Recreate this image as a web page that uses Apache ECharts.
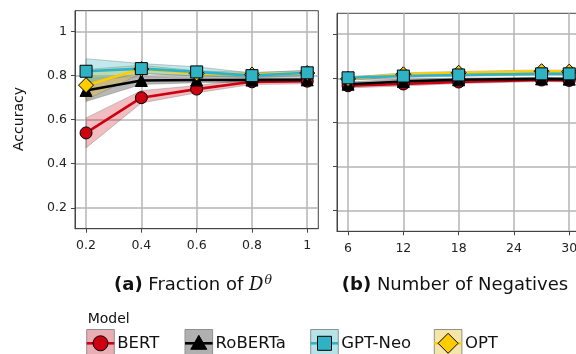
<!DOCTYPE html>
<html><head><meta charset="utf-8">
<script src="https://cdn.jsdelivr.net/npm/echarts@6/dist/echarts.min.js"></script>
<style>html,body{margin:0;padding:0;background:#fff}#c{width:576px;height:354px}</style>
</head><body><div id="c"></div>
<script>
// ---- data ----
const models = ['BERT', 'RoBERTa', 'GPT-Neo', 'OPT'];
const xFrac = [0.2, 0.4, 0.6, 0.8, 1];
const xNeg = [6, 12, 18, 27, 30];
const yTicks = [0.2, 0.4, 0.6, 0.8, 1];
const xFracTicks = [0.2, 0.4, 0.6, 0.8, 1];
const xNegTicks = [6, 12, 18, 24, 30];

// panel (a): Fraction of D^theta
const bertA = [0.540, 0.700, 0.739, 0.772, 0.775];
const bertALo = [0.472, 0.676, 0.722, 0.760, 0.763];
const bertAHi = [0.608, 0.732, 0.755, 0.785, 0.787];
const robertaA = [0.733, 0.778, 0.780, 0.780, 0.781];
const robertaALo = [0.683, 0.760, 0.768, 0.770, 0.772];
const robertaAHi = [0.790, 0.795, 0.792, 0.790, 0.790];
const gptneoA = [0.820, 0.832, 0.817, 0.800, 0.813];
const gptneoALo = [0.765, 0.810, 0.800, 0.790, 0.800];
const gptneoAHi = [0.877, 0.855, 0.840, 0.812, 0.825];
const optA = [0.757, 0.830, 0.810, 0.805, 0.812];
const optALo = [0.690, 0.810, 0.798, 0.795, 0.800];
const optAHi = [0.828, 0.847, 0.822, 0.815, 0.822];

// panel (b): Number of Negatives
const bertB = [0.766, 0.774, 0.783, 0.792, 0.790];
const bertBLo = [0.756, 0.765, 0.776, 0.785, 0.783];
const bertBHi = [0.776, 0.783, 0.790, 0.799, 0.797];
const robertaB = [0.773, 0.785, 0.793, 0.797, 0.796];
const robertaBLo = [0.762, 0.775, 0.785, 0.790, 0.789];
const robertaBHi = [0.784, 0.795, 0.801, 0.804, 0.803];
const gptneoB = [0.802, 0.810, 0.815, 0.820, 0.820];
const gptneoBLo = [0.795, 0.803, 0.809, 0.814, 0.814];
const gptneoBHi = [0.809, 0.817, 0.821, 0.826, 0.826];
const optB = [0.797, 0.818, 0.825, 0.832, 0.830];
const optBLo = [0.790, 0.811, 0.819, 0.826, 0.824];
const optBHi = [0.804, 0.825, 0.831, 0.838, 0.836];

// ---- styles ----
const lineColors = {'BERT':'#cc0011','RoBERTa':'#000000','GPT-Neo':'#2fb3c4','OPT':'#ffcc00'};
const bandColors = {'BERT':'rgba(204,0,17,0.26)','RoBERTa':'rgba(0,0,0,0.28)','GPT-Neo':'rgba(47,179,196,0.3)','OPT':'rgba(230,190,20,0.33)'};
const legendFill = {'BERT':'#e9aeb3','RoBERTa':'#b0b0b0','GPT-Neo':'#b5e3e8','OPT':'#f6e5a9'};
const symbols = {'BERT':['circle',12],'RoBERTa':['triangle',12],'GPT-Neo':['rect',12],'OPT':['diamond',15]};
const FONT = 'DejaVu Sans';

const panelA = {'BERT':[bertA,bertALo,bertAHi],'RoBERTa':[robertaA,robertaALo,robertaAHi],'GPT-Neo':[gptneoA,gptneoALo,gptneoAHi],'OPT':[optA,optALo,optAHi]};
const panelB = {'BERT':[bertB,bertBLo,bertBHi],'RoBERTa':[robertaB,robertaBLo,robertaBHi],'GPT-Neo':[gptneoB,gptneoBLo,gptneoBHi],'OPT':[optB,optBLo,optBHi]};
const drawOrder = ['BERT','RoBERTa','OPT','GPT-Neo'];

function bandSeries(xs, lo, hi, color, ai) {
  const data = xs.map((x, i) => [x, lo[i], hi[i]]);
  return {
    type: 'custom', xAxisIndex: ai, yAxisIndex: ai, data: data, z: 1, silent: true, clip: true,
    encode: {x: 0, y: [1, 2]},
    renderItem: function (params, api) {
      if (params.dataIndex !== 0) return null;
      const top = data.map(d => api.coord([d[0], d[2]]));
      const bot = data.map(d => api.coord([d[0], d[1]])).reverse();
      return {type: 'polygon', shape: {points: top.concat(bot)},
        style: {fill: color, stroke: 'rgba(110,110,110,0.45)', lineWidth: 0.8}};
    }
  };
}
function lineSeries(name, xs, ys, ai) {
  return {
    type: 'line', name: name, xAxisIndex: ai, yAxisIndex: ai, z: 3,
    data: xs.map((x, i) => [x, ys[i]]),
    symbol: symbols[name][0], symbolSize: symbols[name][1],
    lineStyle: {color: lineColors[name], width: 2.6},
    itemStyle: {color: lineColors[name], borderColor: '#000', borderWidth: 1},
    emphasis: {disabled: true}
  };
}

const series = [];
[[panelA, xFrac, 0], [panelB, xNeg, 1]].forEach(([P, xs, ai]) => {
  drawOrder.forEach(m => series.push(bandSeries(xs, P[m][1], P[m][2], bandColors[m], ai)));
  drawOrder.forEach(m => series.push(lineSeries(m, xs, P[m][0], ai)));
});

const axisCommon = {
  type: 'value',
  axisLine: {show: true, lineStyle: {color: '#444', width: 1}},
  axisTick: {show: true, inside: false, length: 4, lineStyle: {color: '#444', width: 1}},
  splitLine: {show: true, lineStyle: {color: '#b4b4b4', width: 1.5}},
  axisLabel: {color: '#222', fontFamily: FONT, fontSize: 12.5}
};
function xAxis(ai, min, max, ticks) {
  return Object.assign({}, axisCommon, {
    gridIndex: ai, min: min, max: max,
    axisTick: Object.assign({}, axisCommon.axisTick, {customValues: ticks}),
    splitLine: Object.assign({}, axisCommon.splitLine, {customValues: ticks}),
    axisLabel: Object.assign({}, axisCommon.axisLabel, {customValues: ticks, margin: 11, hideOverlap: false})
  });
}
function yAxis(ai, showLabels) {
  return Object.assign({}, axisCommon, {
    gridIndex: ai, min: 0.105, max: 1.095,
    axisTick: Object.assign({}, axisCommon.axisTick, {customValues: yTicks}),
    splitLine: Object.assign({}, axisCommon.splitLine, {customValues: yTicks}),
    axisLabel: Object.assign({}, axisCommon.axisLabel, {customValues: yTicks, show: showLabels, margin: 8})
  });
}

// legend graphics
const legendBoxX = [86.7, 185, 310.7, 434.3];
const legendGraphics = [];
models.forEach((m, i) => {
  const x0 = legendBoxX[i], w = 27.6, cy = 343.3, cx = x0 + w / 2;
  legendGraphics.push({type: 'rect', shape: {x: x0, y: 329.5, width: w, height: 28},
    style: {fill: legendFill[m], stroke: '#8f8f8f', lineWidth: 1}, z: 10});
  legendGraphics.push({type: 'line', shape: {x1: x0, y1: cy, x2: x0 + w, y2: cy},
    style: {stroke: lineColors[m], lineWidth: 2.6}, z: 11});
  let mk;
  const st = {fill: lineColors[m], stroke: '#000', lineWidth: 1};
  if (m === 'BERT') mk = {type: 'circle', shape: {cx: cx, cy: cy, r: 7.5}, style: st};
  else if (m === 'RoBERTa') mk = {type: 'polygon', shape: {points: [[cx, cy - 8], [cx + 8, cy + 6], [cx - 8, cy + 6]]}, style: st};
  else if (m === 'GPT-Neo') mk = {type: 'rect', shape: {x: cx - 7, y: cy - 7, width: 14, height: 14}, style: st};
  else mk = {type: 'polygon', shape: {points: [[cx, cy - 10], [cx + 10, cy], [cx, cy + 10], [cx - 10, cy]]}, style: st};
  mk.z = 12;
  legendGraphics.push(mk);
  legendGraphics.push({type: 'text', x: x0 + w + 3, y: cy, z: 12,
    style: {text: m, fontFamily: FONT, fontSize: 16.5, fill: '#111', align: 'left', verticalAlign: 'middle'}});
});

const option = {
  animation: false,
  backgroundColor: '#fff',
  grid: [
    {left: 75, top: 10.7, width: 243.3, height: 218, show: true, borderColor: '#444', borderWidth: 1, backgroundColor: 'transparent', containLabel: false, outerBoundsMode: 'none'},
    {left: 337, top: 13.3, width: 243.3, height: 218, show: true, borderColor: '#444', borderWidth: 1, backgroundColor: 'transparent', containLabel: false, outerBoundsMode: 'none'}
  ],
  xAxis: [xAxis(0, 0.16, 1.04, xFracTicks), xAxis(1, 4.8, 31.2, xNegTicks)],
  yAxis: [yAxis(0, true), yAxis(1, false)],
  series: series,
  graphic: [
    {type: 'text', x: 19, y: 119, rotation: Math.PI / 2,
      style: {text: 'Accuracy', fontFamily: FONT, fontSize: 14, fill: '#111', align: 'center', verticalAlign: 'middle'}},
    {type: 'text', x: 193, y: 285,
      style: {text: '{b|(a)} Fraction of {m|D}{s|θ}', fontFamily: FONT, fontSize: 18, fill: '#111', align: 'center', verticalAlign: 'middle',
        rich: {b: {fontWeight: 'bold', fontFamily: FONT, fontSize: 18}, m: {fontFamily: 'DejaVu Serif', fontStyle: 'italic', fontSize: 18},
               s: {fontFamily: 'DejaVu Serif', fontStyle: 'italic', fontSize: 12.5, verticalAlign: 'top', padding: [0, 0, 8, 1]}}}},
    {type: 'text', x: 455, y: 285,
      style: {text: '{b|(b)} Number of Negatives', fontFamily: FONT, fontSize: 18, fill: '#111', align: 'center', verticalAlign: 'middle',
        rich: {b: {fontWeight: 'bold', fontFamily: FONT, fontSize: 18}}}},
    {type: 'text', x: 87.7, y: 319,
      style: {text: 'Model', fontFamily: FONT, fontSize: 14, fill: '#111', align: 'left', verticalAlign: 'middle'}}
  ].concat(legendGraphics)
};
const chart = echarts.init(document.getElementById('c'), null, {renderer: 'canvas'});
chart.setOption(option);
</script>
</body></html>
